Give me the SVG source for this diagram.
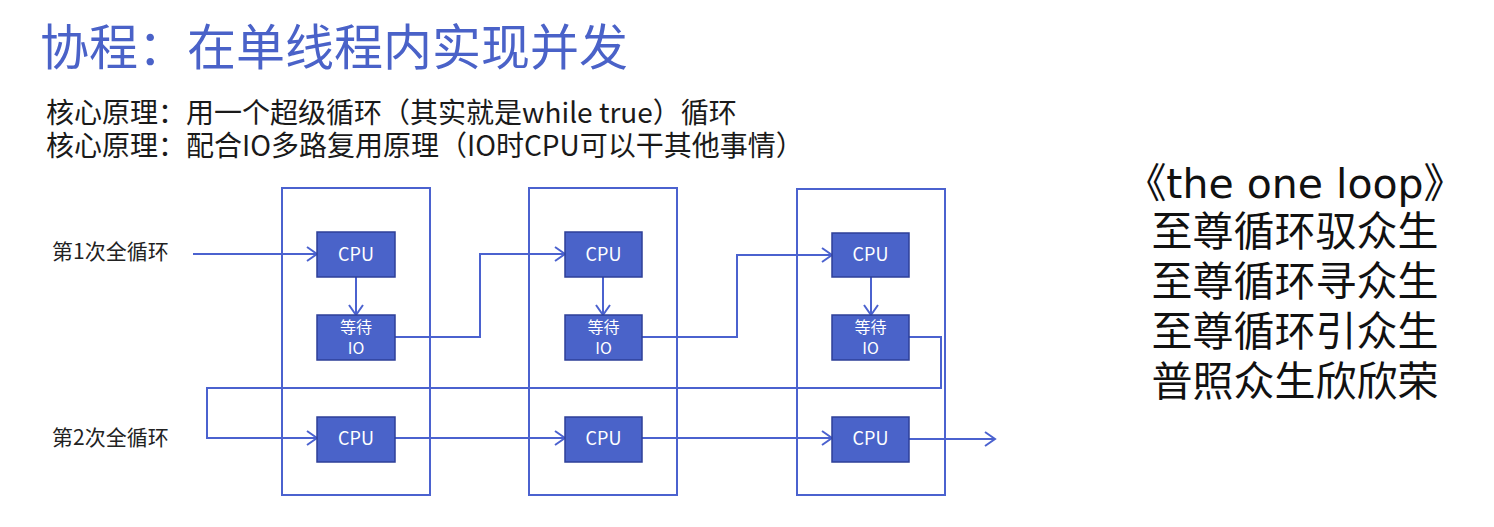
<svg xmlns="http://www.w3.org/2000/svg" width="1494" height="527" viewBox="0 0 1494 527">
<defs>
<style>
.cjk{font-family:"Noto Sans CJK SC","Noto Sans",sans-serif}
.title{font-size:49px;fill:#4a62c8}
.sub{font-size:28px;fill:#1a1a1a}
.lbl{font-size:21px;fill:#222}
.poem{font-size:41px;fill:#111;text-anchor:middle}
.latin{font-family:"DejaVu Sans","Noto Sans CJK SC",sans-serif}
.col{fill:none;stroke:#4b62cf;stroke-width:2}
.node{fill:#4a63c9;stroke:#2e3f98;stroke-width:1.5}
.nt{font-family:"Noto Sans CJK SC","Noto Sans",sans-serif;fill:#fff;text-anchor:middle}
.cpu{font-size:18px}
.io{font-size:16px}
.ln{fill:none;stroke:#4b62cf;stroke-width:2;marker-end:url(#arr)}
</style>
<marker id="arr" markerUnits="userSpaceOnUse" markerWidth="14" markerHeight="18" refX="11" refY="8" orient="auto" viewBox="0 0 14 18">
<path d="M1,1 L11,8 L1,15" fill="none" stroke="#4b62cf" stroke-width="2"/>
</marker>
</defs>
<rect width="1494" height="527" fill="#fff"/>

<text class="cjk title" x="40" y="65">协程：在单线程内实现并发</text>
<text class="cjk sub" x="46" y="123">核心原理：用一个超级循环（其实就是while true）循环</text>
<text class="cjk sub" x="46" y="156">核心原理：配合IO多路复用原理（IO时CPU可以干其他事情）</text>

<text class="cjk lbl" x="52" y="259">第1次全循环</text>
<text class="cjk lbl" x="52" y="445">第2次全循环</text>

<g id="col1"><rect class="col" x="282" y="188" width="148" height="307"/></g>
<g id="col2"><rect class="col" x="529" y="188" width="148" height="307"/></g>
<g id="col3"><rect class="col" x="797" y="189" width="148" height="306"/></g>

<g id="connectors">
<line class="ln" x1="193" y1="254" x2="317" y2="254"/>
<line class="ln" x1="356" y1="277" x2="356" y2="315"/>
<polyline class="ln" points="395,337 480,337 480,254 565,254"/>
<line class="ln" x1="603" y1="277" x2="603" y2="315"/>
<polyline class="ln" points="642,337 737,337 737,255 832,255"/>
<line class="ln" x1="871" y1="277" x2="871" y2="315"/>
<polyline class="ln" points="909,337 941,337 941,388 207,388 207,438 317,438"/>
<line class="ln" x1="395" y1="438" x2="565" y2="438"/>
<line class="ln" x1="642" y1="438" x2="832" y2="438"/>
<line class="ln" x1="909" y1="439" x2="995" y2="439"/>
</g>

<g id="cpu1a"><rect class="node" x="317" y="232" width="78" height="45"/><text class="nt cpu" x="356" y="261">CPU</text></g>
<g id="io1"><rect class="node" x="317" y="315" width="78" height="45"/><text class="nt io" x="356" y="333">等待</text><text class="nt io" x="356" y="354">IO</text></g>
<g id="cpu1b"><rect class="node" x="317" y="417" width="78" height="45"/><text class="nt cpu" x="356" y="445">CPU</text></g>

<g id="cpu2a"><rect class="node" x="565" y="232" width="77" height="45"/><text class="nt cpu" x="603.5" y="261">CPU</text></g>
<g id="io2"><rect class="node" x="565" y="315" width="77" height="45"/><text class="nt io" x="603.5" y="333">等待</text><text class="nt io" x="603.5" y="354">IO</text></g>
<g id="cpu2b"><rect class="node" x="565" y="417" width="77" height="45"/><text class="nt cpu" x="603.5" y="445">CPU</text></g>

<g id="cpu3a"><rect class="node" x="832" y="233" width="77" height="44"/><text class="nt cpu" x="870.5" y="261">CPU</text></g>
<g id="io3"><rect class="node" x="832" y="315" width="77" height="45"/><text class="nt io" x="870.5" y="333">等待</text><text class="nt io" x="870.5" y="354">IO</text></g>
<g id="cpu3b"><rect class="node" x="832" y="417" width="77" height="45"/><text class="nt cpu" x="870.5" y="445">CPU</text></g>

<g id="poem">
<text class="poem latin" x="1295" y="198">《the one loop》</text>
<text class="cjk poem" x="1295" y="246">至尊循环驭众生</text>
<text class="cjk poem" x="1295" y="296">至尊循环寻众生</text>
<text class="cjk poem" x="1295" y="346">至尊循环引众生</text>
<text class="cjk poem" x="1295" y="396">普照众生欣欣荣</text>
</g>
</svg>
